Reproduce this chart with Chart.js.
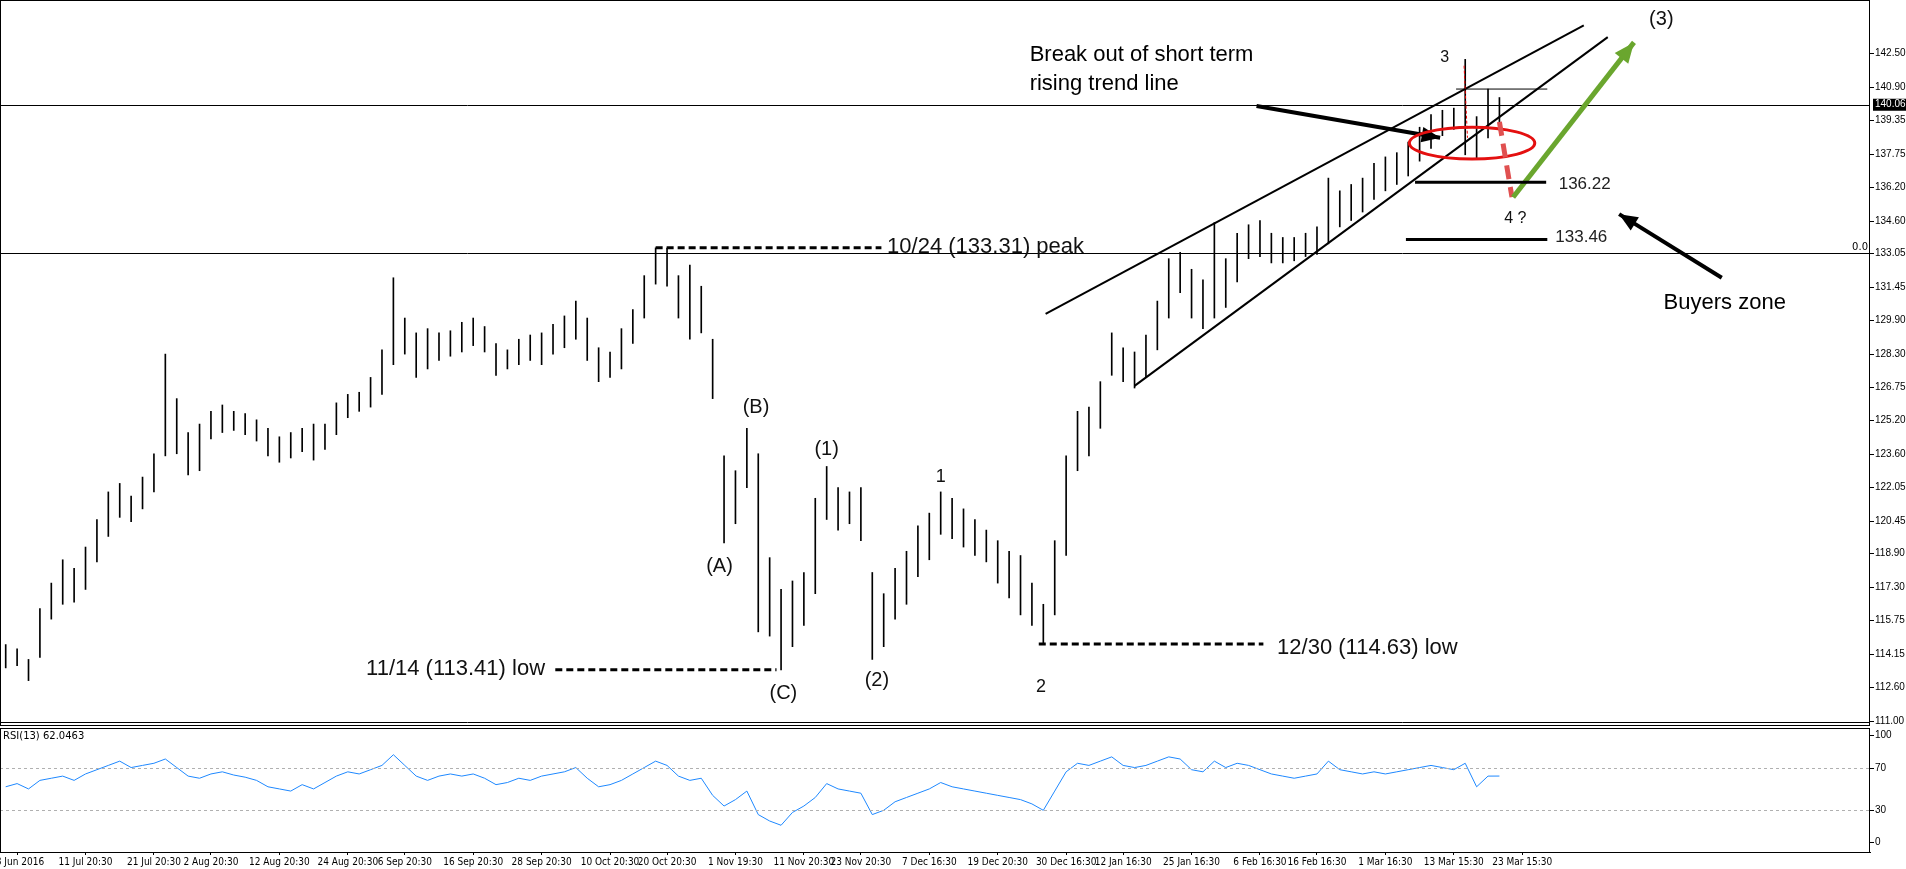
<!DOCTYPE html>
<html>
<head>
<meta charset="utf-8">
<script src="https://cdn.jsdelivr.net/npm/chart.js@4"></script>
<style>
  html, body { margin: 0; padding: 0; background: #fff; overflow: hidden; }
  canvas { display: block; }
</style>
</head>
<body>
<canvas id="priceChart" width="1906" height="726"></canvas>
<canvas id="rsiChart" width="1906" height="143"></canvas>
<script>
// bar lows / highs (one bar per slot)
const lows = [113.5,113.6,112.9,114,115.8,116.5,116.6,117.2,118.5,119.7,
  120.6,120.4,121,121.8,123.5,123.6,122.6,122.8,124.3,124.6,
  124.7,124.5,124.2,123.5,123.2,123.4,123.7,123.3,123.8,124.5,
  125.3,125.6,125.8,126.4,127.8,128.3,127.2,127.6,128,128.2,
  128.4,128.7,128.4,127.3,127.6,127.8,128,127.8,128.3,128.6,
  129,128,127,127.2,127.6,128.8,130,131.6,131.5,130,
  129,129.3,126.2,119.4,120.3,122,115.2,115,113.41,114.5,
  115.5,117,120.5,120,120.3,119.5,113.9,114.5,115.8,116.5,
  117.8,118.6,119.8,119.6,119.2,118.8,118.5,117.5,116.8,116,
  115.5,114.63,116,118.8,122.8,123.5,124.8,127.3,127,126.7,
  127.2,128.5,130,131.2,130,129.5,130,130.5,131.7,132.8,
  132.9,132.6,132.6,132.7,132.9,133,133.5,134.3,134.6,135,
  135.6,136,136.3,136.7,137.4,138,138.6,138.9,137.7,137.5,
  138.5,139];
const highs = [114.6,114.4,113.9,116.3,117.5,118.6,118.2,119.2,120.5,121.8,
  122.2,121.6,122.5,123.6,128.3,126.2,124.6,125,125.6,125.9,
  125.6,125.5,125.2,124.8,124.4,124.6,124.8,125,125,126,
  126.4,126.5,127.2,128.5,131.9,130,129.3,129.5,129.3,129.4,
  129.8,130,129.6,128.8,128.5,129,129.2,129.3,129.7,130.1,
  130.8,130,128.6,128.4,129.5,130.4,132,133.31,133.3,132,
  132.5,131.5,129,123.5,122.8,124.8,123.6,118.7,117.2,117.6,
  118,121.5,123,122,121.8,122,118,117,118.2,119,
  120.2,120.8,121.8,121.5,121,120.5,120,119.5,119,118.8,
  117.5,116.5,119.5,123.5,125.6,125.8,127,129.3,128.6,128.4,
  129.2,130.8,132.8,133.1,132.3,131.8,134.5,132.8,134,134.4,
  134.6,134,133.8,133.8,134,134.3,136.6,136,136.3,136.6,
  137.3,137.6,137.8,138.3,139,139.6,139.8,139.9,142.2,139.5,
  140.8,140.4];
const rsi = [52,55,50,58,60,62,58,64,68,72,
  76,70,72,74,78,70,62,60,64,66,
  63,61,58,52,50,48,54,50,56,62,
  66,64,68,72,82,72,62,58,62,64,
  62,64,60,54,56,60,58,62,64,66,
  70,60,52,54,58,64,70,76,72,62,
  58,60,44,34,40,48,26,20,16,28,
  34,42,55,50,48,46,26,30,38,42,
  46,50,56,52,50,48,46,44,42,40,
  36,30,48,66,74,72,76,80,72,70,
  72,76,80,78,68,66,76,70,74,72,
  68,64,62,60,62,64,76,68,66,64,
  66,64,66,68,70,72,70,68,74,52,
  62,62.05];
const priceTicks = [111.00,112.60,114.15,115.75,117.30,118.90,120.45,122.05,123.60,125.20,
  126.75,128.30,129.90,131.45,133.05,134.60,136.20,137.75,139.35,140.90,142.50];
const rsiTicks = [0, 30, 70, 100];
const tickSlots = [1,7,13,18,24,30,35,41,47,53,58,64,70,75,81,87,93,98,104,110,115,121,127,133];
const tickTexts = ['28 Jun 2016','11 Jul 20:30','21 Jul 20:30','2 Aug 20:30','12 Aug 20:30','24 Aug 20:30',
  '6 Sep 20:30','16 Sep 20:30','28 Sep 20:30','10 Oct 20:30','20 Oct 20:30','1 Nov 19:30',
  '11 Nov 20:30','23 Nov 20:30','7 Dec 16:30','19 Dec 20:30','30 Dec 16:30','12 Jan 16:30',
  '25 Jan 16:30','6 Feb 16:30','16 Feb 16:30','1 Mar 16:30','13 Mar 15:30','23 Mar 15:30'];

const SLOTS = 164;
const slots = [];
for (let i = 0; i < SLOTS; i++) slots.push(i);
const bars = slots.map(i => i < lows.length ? [lows[i], highs[i]] : null);
const rsiData = slots.map(i => i < rsi.length ? rsi[i] : null);

const axisFont = { family: '"Liberation Sans Narrow", "DejaVu Sans Condensed", "Liberation Sans"', size: 10 };

// right-hand price labels drawn next to the axis (keeps the plot flush to the top)
function drawRightTicks(chart, values, fmt) {
  const ctx = chart.ctx, ys = chart.scales.y, a = chart.chartArea;
  ctx.save(); ctx.strokeStyle = '#000'; ctx.fillStyle = '#000'; ctx.lineWidth = 1;
  ctx.font = '10px "Liberation Sans"'; ctx.textBaseline = 'middle';
  values.forEach(v => {
    const y = Math.round(ys.getPixelForValue(v)) + 0.5;
    ctx.beginPath(); ctx.moveTo(a.right, y); ctx.lineTo(a.right + 4, y); ctx.stroke();
    ctx.fillText(fmt(v), a.right + 5, y);
  });
  ctx.restore();
}

// annotations drawn in data space (slot, price)
const overlay = {
  id: 'overlay',
  afterDatasetsDraw(chart) {
    const ctx = chart.ctx, xs = chart.scales.x, ys = chart.scales.y, a = chart.chartArea;
    const X = v => xs.getPixelForValue(v), Y = v => ys.getPixelForValue(v);
    const line = (x1, p1, x2, p2, color, w, dash) => {
      ctx.save(); ctx.strokeStyle = color; ctx.lineWidth = w; ctx.setLineDash(dash || []);
      ctx.beginPath(); ctx.moveTo(X(x1), Y(p1)); ctx.lineTo(X(x2), Y(p2)); ctx.stroke(); ctx.restore();
    };
    const arrow = (x1, p1, x2, p2, color, w, head) => {
      line(x1, p1, x2, p2, color, w);
      const ax = X(x2), ay = Y(p2), ang = Math.atan2(ay - Y(p1), ax - X(x1));
      ctx.save(); ctx.fillStyle = color; ctx.beginPath();
      ctx.moveTo(ax, ay);
      ctx.lineTo(ax - head * Math.cos(ang - 0.4), ay - head * Math.sin(ang - 0.4));
      ctx.lineTo(ax - head * Math.cos(ang + 0.4), ay - head * Math.sin(ang + 0.4));
      ctx.closePath(); ctx.fill(); ctx.restore();
    };
    const text = (s, x, p, size, color, align) => {
      ctx.save(); ctx.font = size + 'px "Liberation Sans", Arial, sans-serif';
      ctx.fillStyle = color || '#000'; ctx.textAlign = align || 'left'; ctx.textBaseline = 'middle';
      ctx.fillText(s, X(x), Y(p)); ctx.restore();
    };

    // full-width levels
    ctx.save(); ctx.strokeStyle = '#000'; ctx.lineWidth = 1;
    [140.06, 133.05].forEach(p => {
      ctx.beginPath(); ctx.moveTo(a.left, Math.round(Y(p)) + 0.5); ctx.lineTo(a.right, Math.round(Y(p)) + 0.5); ctx.stroke();
    });
    ctx.restore();
    ctx.save(); ctx.font = '10px "DejaVu Sans"'; ctx.textAlign = 'right'; ctx.fillStyle = '#000';
    ctx.fillText('0.0', a.right - 2, Y(133.05) - 3); ctx.restore();

    // wedge
    line(91.2, 130.2, 138.4, 143.8, '#000', 2);
    line(99.0, 126.8, 140.5, 143.25, '#000', 2);
    line(127.2, 140.8, 135.2, 140.8, '#000', 1);

    // peak / lows
    line(57, 133.31, 76.8, 133.31, '#000', 3, [7, 4]);
    text('10/24 (133.31) peak', 77.3, 133.35, 22, '#111');
    line(48.2, 113.41, 67.6, 113.41, '#000', 3, [7, 4]);
    text('11/14 (113.41) low', 47.3, 113.45, 22, '#111', 'right');
    line(90.6, 114.63, 110.3, 114.63, '#000', 3, [7, 4]);
    text('12/30 (114.63) low', 111.5, 114.45, 22, '#111');

    // waves
    text('(A)', 62.6, 118.3, 20, '#111', 'center');
    text('(B)', 65.8, 125.8, 20, '#111', 'center');
    text('(C)', 68.2, 112.3, 20, '#111', 'center');
    text('(1)', 72.0, 123.8, 20, '#111', 'center');
    text('(2)', 76.4, 112.9, 20, '#111', 'center');
    text('1', 82.0, 122.5, 18, '#111', 'center');
    text('2', 90.8, 112.6, 18, '#111', 'center');
    text('3', 126.2, 142.3, 16, '#111', 'center');
    text('(3)', 145.2, 144.1, 20, '#111', 'center');
    text('4 ?', 132.4, 134.7, 16, '#111', 'center');

    // break out note
    text('Break out of short term', 89.8, 142.4, 22, '#000');
    text('rising trend line', 89.8, 141.05, 22, '#000');
    arrow(109.7, 140.0, 125.8, 138.5, '#000', 4, 20);
    line(127.9, 141.9, 128.2, 138.5, '#e00', 1, [3, 2]);

    // red circle & projected leg
    ctx.save(); ctx.strokeStyle = '#e41010'; ctx.lineWidth = 3; ctx.beginPath();
    ctx.ellipse(X(128.6), Y(138.25), X(134.1) - X(128.6), Y(137.5) - Y(138.25), 0, 0, Math.PI * 2);
    ctx.stroke(); ctx.restore();
    line(131.0, 139.25, 132.1, 135.7, '#e05050', 5, [14, 8]);
    arrow(132.2, 135.7, 142.8, 143.0, '#6aa62e', 5, 22);

    // buyers zone
    line(123.6, 136.4, 135.1, 136.4, '#000', 3);
    line(122.8, 133.7, 135.2, 133.7, '#000', 3);
    text('136.22', 136.2, 136.3, 17, '#222');
    text('133.46', 135.9, 133.8, 17, '#222');
    arrow(150.5, 131.9, 141.5, 134.9, '#000', 4, 20);
    text('Buyers zone', 145.4, 130.7, 22, '#000');

    // frame, axis labels, current price box
    ctx.save(); ctx.strokeStyle = '#000'; ctx.lineWidth = 1;
    ctx.strokeRect(a.left + 0.5, a.top + 0.5, a.right - a.left - 1, a.bottom - a.top - 1);
    ctx.beginPath(); ctx.moveTo(a.left, a.bottom - 3.5); ctx.lineTo(a.right, a.bottom - 3.5); ctx.stroke();
    ctx.restore();
    drawRightTicks(chart, priceTicks, v => v.toFixed(2));
    const py = Y(140.06);
    ctx.save();
    ctx.fillStyle = '#000'; ctx.fillRect(a.right + 3, py - 6, 33, 12);
    ctx.fillStyle = '#fff'; ctx.font = '10px "Liberation Sans"'; ctx.textBaseline = 'middle';
    ctx.fillText('140.06', a.right + 5, py); ctx.restore();
  }
};

new Chart(document.getElementById('priceChart'), {
  type: 'bar',
  data: { labels: slots, datasets: [{ data: bars, backgroundColor: '#000', barThickness: 1 }] },
  options: {
    responsive: false, animation: false,
    layout: { padding: 0 },
    plugins: { legend: { display: false }, tooltip: { enabled: false } },
    scales: {
      x: { display: false },
      y: {
        position: 'right', min: 110.76, max: 145.0,
        afterFit: s => { s.width = 36; },
        ticks: { display: false },
        grid: { display: false },
        border: { display: false }
      }
    }
  },
  plugins: [overlay]
});

const rsiFrame = {
  id: 'rsiFrame',
  afterDatasetsDraw(chart) {
    const ctx = chart.ctx, a = chart.chartArea, ys = chart.scales.y;
    ctx.save(); ctx.strokeStyle = '#b0b0b0'; ctx.lineWidth = 1; ctx.setLineDash([3, 3]);
    [30, 70].forEach(v => {
      const y = Math.round(ys.getPixelForValue(v)) + 0.5;
      ctx.beginPath(); ctx.moveTo(a.left, y); ctx.lineTo(a.right, y); ctx.stroke();
    });
    ctx.restore();
    ctx.save(); ctx.strokeStyle = '#000'; ctx.lineWidth = 1;
    ctx.strokeRect(a.left + 0.5, a.top + 0.5, a.right - a.left - 1, a.bottom - a.top);
    ctx.font = '10px "DejaVu Sans"'; ctx.fillStyle = '#000'; ctx.textBaseline = 'top';
    ctx.fillText('RSI(13) 62.0463', a.left + 3, a.top + 3);
    ctx.restore();
    drawRightTicks(chart, rsiTicks, v => String(v));
  }
};

new Chart(document.getElementById('rsiChart'), {
  type: 'line',
  data: { labels: slots, datasets: [{ data: rsiData, borderColor: '#1e88ff', borderWidth: 1, pointRadius: 0, tension: 0 }] },
  options: {
    responsive: false, animation: false,
    layout: { padding: { top: 2, bottom: 0, left: 0, right: 0 } },
    plugins: { legend: { display: false }, tooltip: { enabled: false } },
    scales: {
      x: {
        offset: true,
        ticks: {
          autoSkip: false, maxRotation: 0, font: axisFont, color: '#000', padding: 1,
          callback: (v, i) => { const k = tickSlots.indexOf(i); return k < 0 ? '' : tickTexts[k]; }
        },
        grid: { drawOnChartArea: false, tickLength: 3, color: c => tickSlots.includes(c.index) ? '#000' : 'rgba(0,0,0,0)' },
        border: { color: '#000' }
      },
      y: {
        position: 'right', min: -9, max: 107,
        afterFit: s => { s.width = 36; },
        ticks: { display: false },
        grid: { display: false },
        border: { display: false }
      }
    }
  },
  plugins: [rsiFrame]
});
</script>
</body>
</html>
